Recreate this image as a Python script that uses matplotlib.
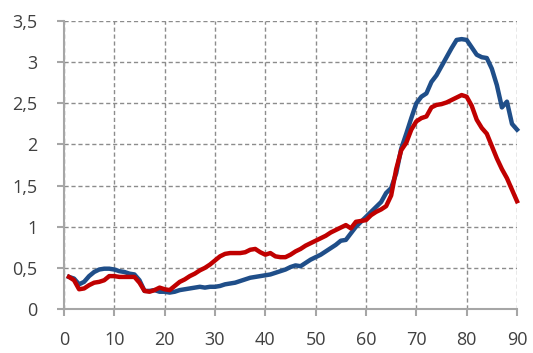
import numpy as np
import matplotlib.pyplot as plt
from matplotlib.ticker import FuncFormatter

# età (anni)
eta = np.arange(1, 91)

serie_blu = [0.39, 0.37, 0.30, 0.33, 0.40, 0.45, 0.48, 0.49, 0.49, 0.48,
             0.46, 0.45, 0.43, 0.42, 0.35, 0.22, 0.22, 0.23, 0.21, 0.21,
             0.20, 0.21, 0.23, 0.24, 0.25, 0.26, 0.27, 0.26, 0.27, 0.27,
             0.28, 0.30, 0.31, 0.32, 0.34, 0.36, 0.38, 0.39, 0.40, 0.41,
             0.42, 0.44, 0.46, 0.48, 0.51, 0.53, 0.52, 0.56, 0.60, 0.63,
             0.66, 0.70, 0.74, 0.78, 0.83, 0.84, 0.92, 1.00, 1.06, 1.12,
             1.18, 1.24, 1.30, 1.41, 1.47, 1.65, 1.95, 2.13, 2.32, 2.50,
             2.58, 2.62, 2.76, 2.84, 2.95, 3.06, 3.17, 3.27, 3.28, 3.27,
             3.18, 3.09, 3.06, 3.05, 2.92, 2.72, 2.45, 2.52, 2.25, 2.18]

serie_rossa = [0.39, 0.35, 0.24, 0.25, 0.29, 0.32, 0.33, 0.35, 0.40, 0.40,
               0.39, 0.39, 0.39, 0.39, 0.32, 0.22, 0.21, 0.23, 0.26, 0.24,
               0.23, 0.28, 0.33, 0.36, 0.40, 0.43, 0.47, 0.50, 0.54, 0.59,
               0.64, 0.67, 0.68, 0.68, 0.68, 0.69, 0.72, 0.73, 0.69, 0.66,
               0.68, 0.64, 0.63, 0.63, 0.66, 0.70, 0.73, 0.77, 0.80, 0.83,
               0.86, 0.89, 0.93, 0.96, 0.99, 1.02, 0.98, 1.06, 1.07, 1.08,
               1.14, 1.18, 1.21, 1.25, 1.38, 1.70, 1.93, 2.02, 2.18, 2.28,
               2.32, 2.34, 2.45, 2.48, 2.49, 2.51, 2.54, 2.57, 2.60, 2.58,
               2.47, 2.30, 2.20, 2.13, 1.98, 1.83, 1.70, 1.59, 1.45, 1.31]

x_ticks = np.arange(0, 91, 10)
y_ticks = np.arange(0, 3.51, 0.5)

plt.rcParams['font.family'] = ['Open Sans', 'DejaVu Sans']

fig = plt.figure(figsize=(5.33, 3.53), dpi=100)
ax = fig.add_axes([0.120, 0.1246, 0.850, 0.8159])

ax.plot(eta, serie_blu, color='#1F4E89', linewidth=3.2, solid_joinstyle='round', clip_on=False)
ax.plot(eta, serie_rossa, color='#C00000', linewidth=3.2, solid_joinstyle='round', clip_on=False)

ax.set_xlim(0, 90)
ax.set_ylim(0, 3.5)
ax.set_xticks(x_ticks)
ax.set_yticks(y_ticks)

# virgola come separatore decimale
ax.yaxis.set_major_formatter(FuncFormatter(lambda v, p: ('%g' % v).replace('.', ',')))

ax.grid(True, color='#8c8c8c', linestyle=(0, (3, 2)), linewidth=1.0)
ax.set_axisbelow(True)

for lato in ['top', 'right']:
    ax.spines[lato].set_visible(False)
for lato in ['left', 'bottom']:
    ax.spines[lato].set_color('#a6a6a6')
    ax.spines[lato].set_linewidth(1.5)

ax.tick_params(axis='both', direction='out', length=5, width=1.5, color='#a6a6a6',
               labelsize=13, labelcolor='#404040')
ax.tick_params(axis='y', pad=14)
ax.tick_params(axis='x', pad=11)

plt.savefig('out.png', dpi=100)
plt.close()
